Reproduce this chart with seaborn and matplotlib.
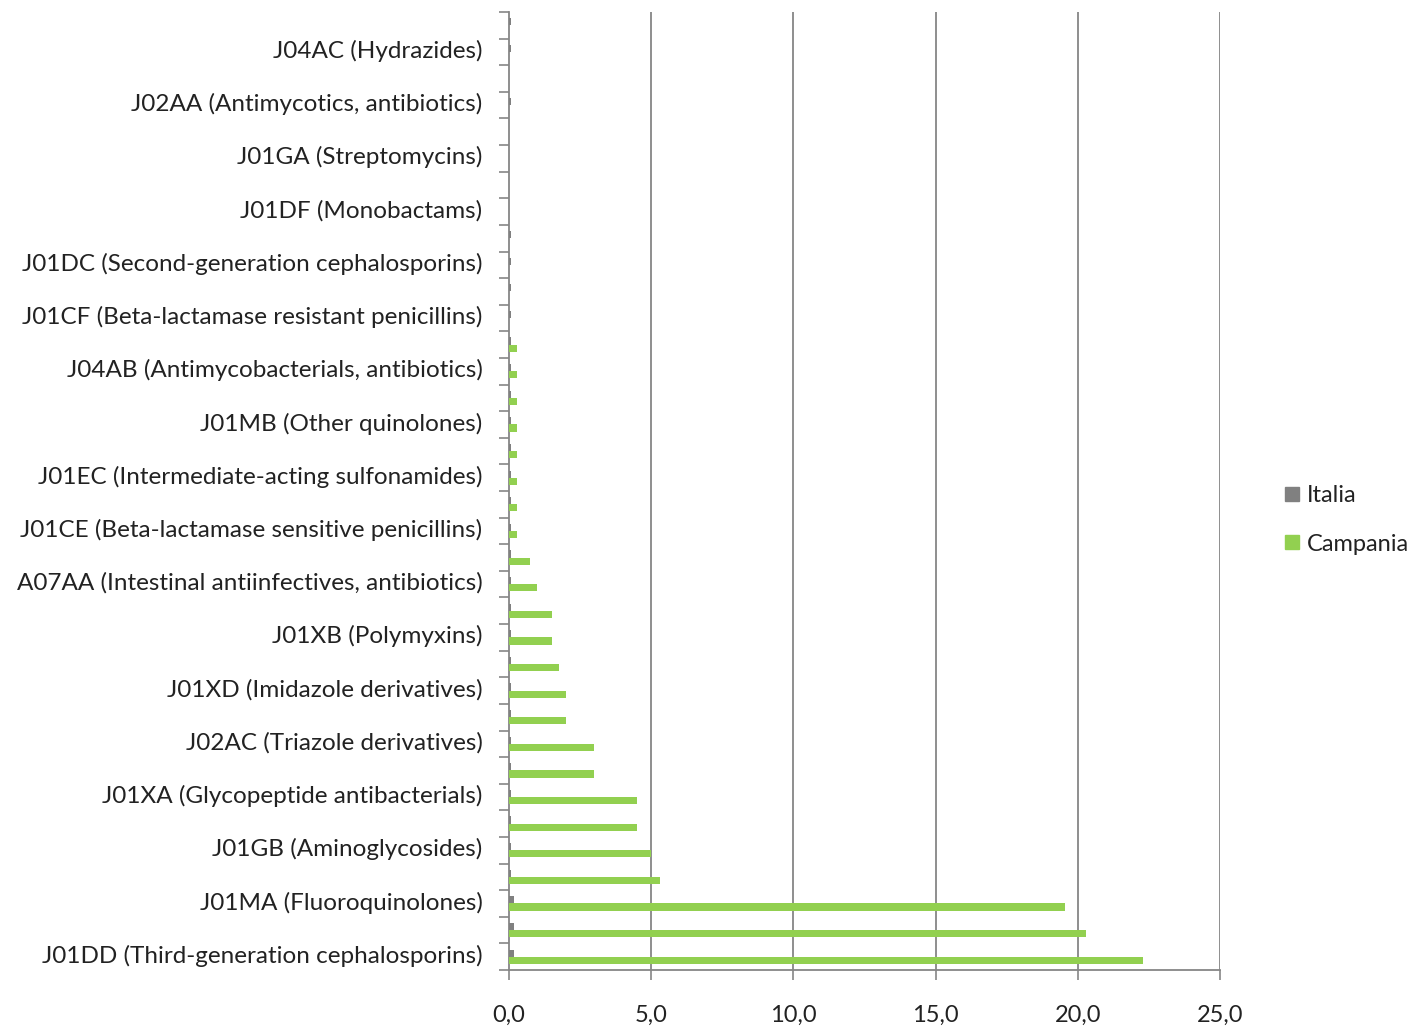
import numpy as np
import pandas as pd
import seaborn as sns
import matplotlib.pyplot as plt
from matplotlib.lines import Line2D
from matplotlib.ticker import FixedLocator, NullFormatter
from matplotlib.transforms import ScaledTranslation

# Categories listed top to bottom; every other slot carries no visible label
labels = [
    "", "J04AC (Hydrazides)",
    "", "J02AA (Antimycotics, antibiotics)",
    "", "J01GA (Streptomycins)",
    "", "J01DF (Monobactams)",
    "", "J01DC (Second-generation cephalosporins)",
    "", "J01CF (Beta-lactamase resistant penicillins)",
    "", "J04AB (Antimycobacterials, antibiotics)",
    "", "J01MB (Other quinolones)",
    "", "J01EC (Intermediate-acting sulfonamides)",
    "", "J01CE (Beta-lactamase sensitive penicillins)",
    "", "A07AA (Intestinal antiinfectives, antibiotics)",
    "", "J01XB (Polymyxins)",
    "", "J01XD (Imidazole derivatives)",
    "", "J02AC (Triazole derivatives)",
    "", "J01XA (Glycopeptide antibacterials)",
    "", "J01GB (Aminoglycosides)",
    "", "J01MA (Fluoroquinolones)",
    "", "J01DD (Third-generation cephalosporins)",
]

italia = [
    0.06, 0.06, 0.0, 0.06, 0.0, 0.0, 0.0, 0.0, 0.06, 0.06, 0.06, 0.06,
    0.06, 0.06, 0.06, 0.06, 0.06, 0.06, 0.06, 0.06,
    0.07, 0.07, 0.07, 0.07, 0.07, 0.07, 0.07, 0.07, 0.07, 0.07, 0.07, 0.07, 0.07,
    0.19, 0.19, 0.19,
]

campania = [
    0, 0, 0, 0, 0, 0, 0, 0, 0, 0, 0, 0,
    0.28, 0.28, 0.28, 0.28, 0.28, 0.28, 0.28, 0.28,
    0.75, 1.0, 1.5, 1.5, 1.75, 2.0, 2.0, 3.0, 3.0, 4.5, 4.5, 5.0, 5.3,
    19.55, 20.3, 22.3,
]

series_names = ["Italia", "Campania"]
series_colors = ["#808080", "#92D050"]
x_ticks = [0, 5, 10, 15, 20, 25]

n = len(labels)
df = pd.DataFrame({
    "slot": list(range(n)) * 2,
    "value": italia + campania,
    "series": ["Italia"] * n + ["Campania"] * n,
})

sns.set_style("white")
plt.rcParams["font.family"] = ["Lato", "DejaVu Sans"]

fig = plt.figure(figsize=(14.2, 10.27), dpi=100)
ax = fig.add_axes([509 / 1420, 1 - 970 / 1027, 711 / 1420, 958 / 1027])

sns.barplot(
    data=df, y="slot", x="value", hue="series", hue_order=series_names,
    palette=series_colors, orient="h", width=0.54, saturation=1,
    legend=False, ax=ax, linewidth=0, zorder=3,
)

grid_col = "#868686"
ax.set_xlim(0, 25)
ax.set_ylim(n - 0.5, -0.5)

# vertical gridlines
for v in x_ticks[1:]:
    ax.axvline(v, color=grid_col, lw=1.3, zorder=1)

ax.xaxis.set_major_locator(FixedLocator(x_ticks))
ax.set_xticklabels([f"{v:.1f}".replace(".", ",") for v in x_ticks])
ax.tick_params(axis="x", which="major", length=7, width=1.2, color=grid_col,
               direction="out", pad=18, labelsize=17, labelcolor="#222222",
               bottom=True)

# tick marks sit on category boundaries; labels sit at category centres
ax.yaxis.set_major_locator(FixedLocator(np.arange(-0.5, n, 1.0)))
ax.yaxis.set_major_formatter(NullFormatter())
ax.yaxis.set_minor_locator(FixedLocator(np.arange(n)))
ax.set_yticklabels(labels, minor=True)
ax.tick_params(axis="y", which="major", length=7, width=1.2, color=grid_col,
               direction="out", left=True)
ax.tick_params(axis="y", which="minor", length=0, pad=19, labelsize=17.5,
               labelcolor="#222222", left=True)
lift = ScaledTranslation(0, 3 / 100, fig.dpi_scale_trans)
for lbl in ax.get_yticklabels(minor=True):
    lbl.set_transform(lbl.get_transform() + lift)

ax.set_xlabel("")
ax.set_ylabel("")

for side in ["top", "right"]:
    ax.spines[side].set_visible(False)
for side in ["left", "bottom"]:
    ax.spines[side].set_color(grid_col)
    ax.spines[side].set_linewidth(1.3)
ax.spines["bottom"].set_zorder(5)

handles = [
    Line2D([0], [0], marker="s", linestyle="none", markersize=10,
           markerfacecolor=c, markeredgecolor=c)
    for c in series_colors
]
fig.legend(handles, series_names, loc="center left",
           bbox_to_anchor=(1262 / 1420, 1 - 520 / 1027), frameon=False,
           fontsize=17, labelspacing=1.15, handlelength=0.7,
           handletextpad=0.3, labelcolor="#222222")

fig.savefig("out.png", dpi=100, facecolor="white")
